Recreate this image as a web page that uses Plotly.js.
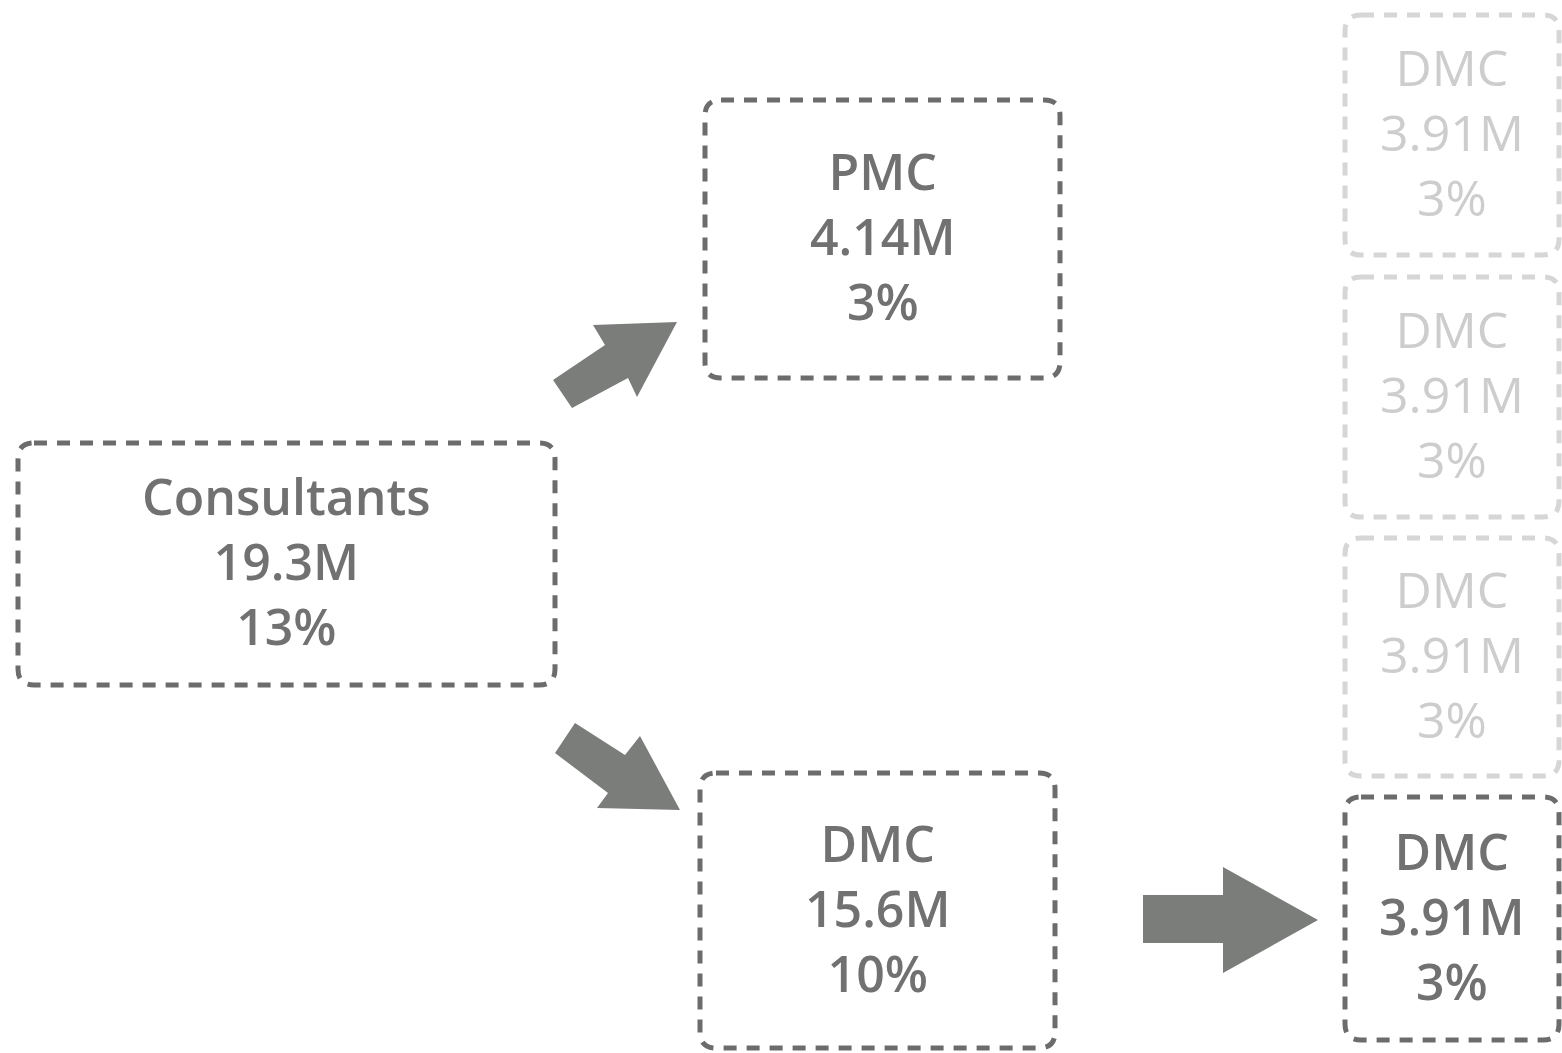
<!DOCTYPE html>
<html>
<head>
<meta charset="utf-8">
<script src="https://cdn.plot.ly/plotly-3.0.1.min.js"></script>
<style>html,body{margin:0;padding:0;background:#fff;}#chart{width:1562px;height:1053px;}</style>
</head>
<body>
<div id="chart"></div>
<script>
// ---- data ----
const nodeLabels = ["Consultants", "PMC", "DMC", "DMC", "DMC", "DMC", "DMC"];
const nodeValues = ["19.3M", "4.14M", "15.6M", "3.91M", "3.91M", "3.91M", "3.91M"];
const nodeShares = ["13%", "3%", "10%", "3%", "3%", "3%", "3%"];
const nodeActive = [true, true, true, false, false, false, true];

// ---- layout geometry (pixel-like data space) ----
const boxes = [
  [18, 443, 555, 685],
  [705, 100, 1060, 378],
  [700, 773, 1055, 1048],
  [1345, 15, 1559, 255],
  [1345, 277, 1559, 517],
  [1345, 538, 1559, 776],
  [1345, 797, 1559, 1040]
];
const arrows = [
  [[553,380],[605,345],[593,325],[677,322],[637,397],[628,378],[572,408]],
  [[575,723],[625,755],[640,736],[680,810],[597,808],[608,793],[555,753]],
  [[1143,895],[1223,895],[1223,867],[1318,920],[1223,973],[1223,943],[1143,943]]
];

const DARK = "#717171", LIGHT = "#cdcdcd";
const BORDER_DARK = "#6c6c6c", BORDER_LIGHT = "#d6d6d6";
const ARROW = "#7b7d7b";

function roundRect(b, r) {
  const [x0, y0, x1, y1] = b;
  return `M ${x0+r},${y0} L ${x1-r},${y0} Q ${x1},${y0} ${x1},${y0+r} L ${x1},${y1-r} Q ${x1},${y1} ${x1-r},${y1} L ${x0+r},${y1} Q ${x0},${y1} ${x0},${y1-r} L ${x0},${y0+r} Q ${x0},${y0} ${x0+r},${y0} Z`;
}

const shapes = [];
const annotations = [];
boxes.forEach((b, i) => {
  shapes.push({
    type: "path", xref: "x", yref: "y", path: roundRect(b, 16),
    line: {color: nodeActive[i] ? BORDER_DARK : BORDER_LIGHT, width: 5, dash: "13px,10px"},
    fillcolor: "rgba(0,0,0,0)"
  });
  const cx = (b[0] + b[2]) / 2, cy = (b[1] + b[3]) / 2 - 3;
  annotations.push({
    xref: "x", yref: "y", x: cx, y: cy, showarrow: false,
    text: [nodeLabels[i], nodeValues[i], nodeShares[i]].join("<br>"),
    xanchor: "center", yanchor: "middle", align: "center",
    font: {family: "Open Sans, sans-serif", size: 50, color: nodeActive[i] ? DARK : LIGHT,
           weight: nodeActive[i] ? 600 : 400}
  });
});
arrows.forEach(a => {
  shapes.push({
    type: "path", xref: "x", yref: "y",
    path: "M " + a.map(p => p[0] + "," + p[1]).join(" L ") + " Z",
    fillcolor: ARROW, line: {width: 0}
  });
});

const layout = {
  width: 1562, height: 1053,
  margin: {l: 0, r: 0, t: 0, b: 0},
  paper_bgcolor: "#ffffff", plot_bgcolor: "#ffffff",
  xaxis: {range: [0, 1562], visible: false, fixedrange: true},
  yaxis: {range: [1053, 0], visible: false, fixedrange: true},
  showlegend: false,
  shapes: shapes, annotations: annotations
};
Plotly.newPlot("chart", [{x: [], y: [], type: "scatter"}], layout, {displayModeBar: false, staticPlot: true});
</script>
</body>
</html>
